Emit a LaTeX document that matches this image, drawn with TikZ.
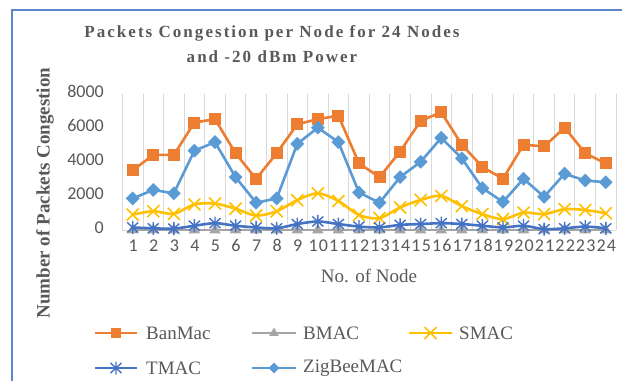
\documentclass[tikz,border=0pt]{standalone}
\usepackage{fontspec}
\setmainfont{Liberation Serif}
\newfontfamily\tickfont{Carlito}
\newfontfamily\xtickfont[LetterSpace=7]{Carlito}
\newfontfamily\titlefont[LetterSpace=12]{Liberation Serif}
\usetikzlibrary{shapes.geometric}
\definecolor{cBan}{HTML}{ED7D31}
\definecolor{cB}{HTML}{A5A5A5}
\definecolor{cS}{HTML}{FFC000}
\definecolor{cT}{HTML}{4472C4}
\definecolor{cZ}{HTML}{5B9BD5}
\definecolor{txt}{HTML}{595959}
\definecolor{gridc}{HTML}{D9D9D9}
\definecolor{framec}{HTML}{5B87C8}
\tikzset{
  sqmk/.style={rectangle, fill=cBan, inner sep=0pt, minimum size=12pt},
  diamk/.style={diamond, fill=cZ, inner sep=0pt, minimum size=14pt},
  trimk/.style={regular polygon, regular polygon sides=3, fill=cB, inner sep=0pt, minimum size=13pt},
  xmk/.pic={\draw[cS, line width=1.6pt] (-6,-6)--(6,6) (-6,6)--(6,-6);},
  astmk/.pic={\draw[cT, line width=1.4pt] (0,-6.5)--(0,6.5) (-5.5,-5)--(5.5,5) (-5.5,5)--(5.5,-5);},
  serieslne/.style={line width=2.6pt, line join=round, line cap=round},
  ticklab/.style={font=\tickfont\fontsize{18}{20}\selectfont, text=txt, inner sep=0pt},
  xticklab/.style={font=\xtickfont\fontsize{18}{20}\selectfont, text=txt, inner sep=0pt},
  leglab/.style={font=\fontsize{19}{21}\selectfont, text=txt, anchor=west, inner sep=0pt},
  gridline/.style={gridc, line width=0.9pt}
}
\begin{document}
\begin{tikzpicture}[x=1pt, y=-1pt]
\useasboundingbox (0,0) rectangle (622,381);
\fill[white] (0,0) rectangle (622,381);
% frame
\draw[framec, line width=2pt] (12,381) -- (12,10) -- (622,10);
% title
\node[font=\titlefont\bfseries\fontsize{17}{20}\selectfont, text=txt, align=center] (title) at (272,33) {Packets Congestion per Node for 24 Nodes};
\node[font=\titlefont\bfseries\fontsize{17}{20}\selectfont, text=txt, align=center] (title2) at (272,57) {and -20 dBm Power};
% grid
\foreach \k in {0,...,24} \draw[gridline] ({122.4+20.57*\k},93.5) -- ({122.4+20.57*\k},230);
\draw[gridline] (122.4,230) -- (616,230);
% y tick labels
\foreach \v in {0,2000,4000,6000,8000} \node[ticklab, anchor=east] (yl\v) at (104,{228-0.0170625*\v}) {\v};
% x tick labels
\foreach \i in {1,...,24} \node[xticklab] (xl\i) at ({133.2+20.57*(\i-1)},245.5) {\i};
% axis titles
\node[font=\bfseries\fontsize{19}{21}\selectfont, text=txt, rotate=90] (ytitle) at (45,193) {Number of Packets Congestion};
\node[font=\fontsize{19}{21}\selectfont, text=txt] (xtitle) at (369,275.5) {No. of Node};
% data coordinates
\foreach \v [count=\i] in {3500,4400,4400,6300,6500,4500,3000,4500,6200,6500,6700,3900,3100,4600,6400,6900,5000,3700,3000,5000,4900,6000,4500,3900}
  \coordinate (ban\i) at ({132.7+20.57*(\i-1)},{230-0.0170625*\v});
\foreach \v [count=\i] in {0,0,0,0,0,0,0,0,0,0,0,0,0,0,0,0,0,0,0,0,0,0,0,0}
  \coordinate (bm\i) at ({132.7+20.57*(\i-1)},{230-0.0170625*\v});
\foreach \v [count=\i] in {900,1100,950,1500,1550,1250,850,1100,1750,2150,1700,880,700,1320,1760,2000,1400,930,640,1020,930,1220,1170,980}
  \coordinate (sm\i) at ({132.7+20.57*(\i-1)},{230-0.0170625*\v});
\foreach \v [count=\i] in {150,100,80,250,400,250,150,100,350,500,350,200,150,300,350,400,350,250,150,250,50,100,200,100}
  \coordinate (tm\i) at ({132.7+20.57*(\i-1)},{230-0.0170625*\v});
\foreach \v [count=\i] in {1850,2350,2150,4650,5150,3100,1600,1850,5050,6000,5150,2200,1600,3100,4000,5400,4200,2450,1650,3000,1950,3300,2900,2800}
  \coordinate (zb\i) at ({132.7+20.57*(\i-1)},{230-0.0170625*\v});
% BanMac
\draw[serieslne, cBan] (ban1) \foreach \i in {2,...,24} {-- (ban\i)};
\foreach \i in {1,...,24} \node[sqmk] (banm\i) at (ban\i) {};
% BMAC
\draw[serieslne, cB] (bm1) -- (bm24);
\foreach \i in {1,...,24} \node[trimk] (bmm\i) at (bm\i) {};
% SMAC
\draw[serieslne, cS] plot[smooth, tension=0.5] coordinates {(sm1) (sm2) (sm3) (sm4) (sm5) (sm6) (sm7) (sm8) (sm9) (sm10) (sm11) (sm12) (sm13) (sm14) (sm15) (sm16) (sm17) (sm18) (sm19) (sm20) (sm21) (sm22) (sm23) (sm24)};
\foreach \i in {1,...,24} \pic at (sm\i) {xmk};
% TMAC
\draw[serieslne, cT] plot[smooth, tension=0.5] coordinates {(tm1) (tm2) (tm3) (tm4) (tm5) (tm6) (tm7) (tm8) (tm9) (tm10) (tm11) (tm12) (tm13) (tm14) (tm15) (tm16) (tm17) (tm18) (tm19) (tm20) (tm21) (tm22) (tm23) (tm24)};
\foreach \i in {1,...,24} \pic at (tm\i) {astmk};
% ZigBee
\draw[serieslne, cZ] (zb1) \foreach \i in {2,...,24} {-- (zb\i)};
\foreach \i in {1,...,24} \node[diamk] (zbm\i) at (zb\i) {};
% legend
\coordinate (l1a) at (95,333); \coordinate (l1b) at (137,333);
\draw[serieslne, cBan, line cap=butt] (l1a) -- (l1b);
\node[sqmk, minimum size=10pt] (lg1) at (116,333) {};
\node[leglab] (lt1) at (146,333) {BanMac};
\coordinate (l2a) at (252,333); \coordinate (l2b) at (296,333);
\draw[serieslne, cB, line cap=butt] (l2a) -- (l2b);
\node[trimk, minimum size=11pt] (lg2) at (274,333) {};
\node[leglab] (lt2) at (303,333) {BMAC};
\coordinate (l3a) at (409,333); \coordinate (l3b) at (452,333);
\draw[serieslne, cS, line cap=butt] (l3a) -- (l3b);
\pic at (430.5,333) {xmk};
\node[leglab] (lt3) at (459,333) {SMAC};
\coordinate (l4a) at (95,368); \coordinate (l4b) at (137,368);
\draw[serieslne, cT, line cap=butt] (l4a) -- (l4b);
\pic at (116,368) {astmk};
\node[leglab] (lt4) at (146,368) {TMAC};
\coordinate (l5a) at (252,368); \coordinate (l5b) at (296,368);
\draw[serieslne, cZ, line cap=butt] (l5a) -- (l5b);
\node[diamk, minimum size=11pt] (lg5) at (274,368) {};
\node[leglab] (lt5) at (303,368) {ZigBeeMAC};
\end{tikzpicture}
\end{document}
